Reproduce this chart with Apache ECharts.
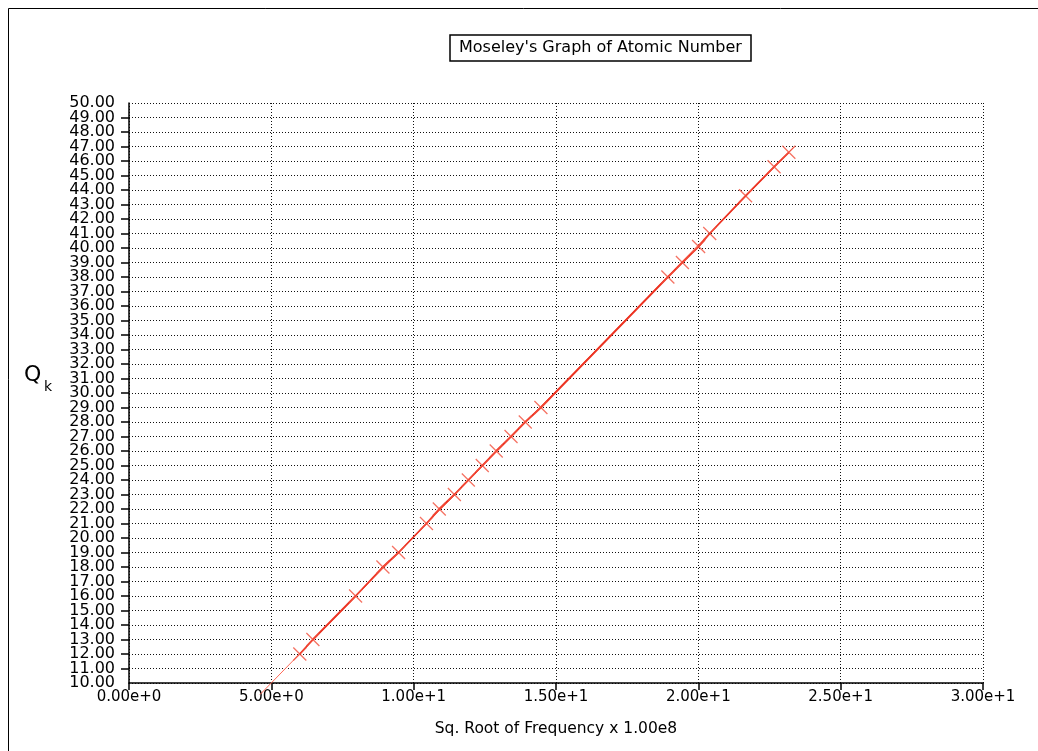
<!DOCTYPE html>
<html>
<head>
<meta charset="utf-8">
<script src="https://cdn.jsdelivr.net/npm/echarts@6/dist/echarts.min.js"></script>
<style>html,body{margin:0;padding:0;background:#fff}#c{width:1038px;height:751px}</style>
</head>
<body>
<div id="c"></div>
<script>
// Data
const titleText = "Moseley's Graph of Atomic Number";
const xAxisName = "Sq. Root of Frequency x 1.00e8";
const sqrtFreq = [6.00, 6.46, 7.96, 8.92, 9.47, 10.45, 10.90, 11.43, 11.92, 12.41, 12.90, 13.42, 13.92, 14.47, 18.93, 19.44, 20.01, 20.40, 21.66, 22.66, 23.18];
const atomicNumber = [12, 13, 16, 18, 19, 21, 22, 23, 24, 25, 26, 27, 28, 29, 38, 39, 40.1, 41, 43.6, 45.6, 46.6];
const fitX = [4.6, 23.35];
const fitY = [9.2, 46.95];
const yMin = 10, yMax = 50;

const pts = sqrtFreq.map((x, i) => [x, atomicNumber[i]]);
const fit = fitX.map((x, i) => [x, fitY[i]]);
const FONT = 'DejaVu Sans';
const GRID = {left: 129, right: 55, top: 103, bottom: 68};
const yLabel = {color: '#000', margin: 14, fontFamily: FONT, fontSize: 16,
  formatter: v => v.toFixed(2)};

const chart = echarts.init(document.getElementById('c'), null, {renderer: 'canvas'});
chart.setOption({
  animation: false,
  backgroundColor: '#fff',
  title: {
    text: titleText,
    left: 450, top: 35,
    padding: [5, 9, 5, 9],
    borderWidth: 1.5, borderColor: '#000',
    textStyle: {fontFamily: FONT, fontSize: 16, fontWeight: 'normal', color: '#000'}
  },
  grid: Object.assign({containLabel: false}, GRID),
  xAxis: {
    type: 'value', min: 0, max: 30, interval: 5,
    name: xAxisName, nameLocation: 'middle', nameGap: 38,
    nameTextStyle: {fontFamily: FONT, fontSize: 15.5, color: '#000'},
    axisLine: {show: true, onZero: false, lineStyle: {color: '#000', width: 1.5}},
    axisTick: {show: true, length: 7, lineStyle: {color: '#000', width: 1.5}},
    axisLabel: {fontFamily: FONT, fontSize: 15, color: '#000', margin: 7,
      showMinLabel: true, showMaxLabel: true,
      formatter: v => v.toExponential(2)},
    splitLine: {show: true, lineStyle: {color: '#111', width: 1, type: [1, 2]}}
  },
  yAxis: [{
    type: 'value', min: yMin, max: yMax, interval: 1, position: 'left',
    axisLine: {show: true, onZero: false, lineStyle: {color: '#000', width: 1.5}},
    axisTick: {show: true, length: 8, lineStyle: {color: '#000', width: 1.5}},
    axisLabel: Object.assign({showMinLabel: false, showMaxLabel: false}, yLabel),
    splitLine: {show: true, lineStyle: {color: '#111', width: 1, type: [1, 2]}}
  }, {
    // carries the end labels (10.00 and 50.00) on the same left edge
    type: 'value', min: yMin, max: yMax, interval: yMax - yMin, position: 'right',
    offset: -(1038 - GRID.left - GRID.right),
    axisLine: {show: false},
    axisTick: {show: false},
    axisLabel: Object.assign({inside: true, showMinLabel: true, showMaxLabel: true}, yLabel),
    splitLine: {show: false}
  }],
  graphic: [
    {type: 'line', shape: {x1: 8.5, y1: 8.5, x2: 1038, y2: 8.5}, style: {stroke: '#000', lineWidth: 1}},
    {type: 'line', shape: {x1: 8.5, y1: 8.5, x2: 8.5, y2: 751}, style: {stroke: '#000', lineWidth: 1}},
    {type: 'text', left: 24, top: 364, style: {text: 'Q', fontFamily: FONT, fontSize: 22, fill: '#000'}},
    {type: 'text', left: 44, top: 380, style: {text: 'k', fontFamily: FONT, fontSize: 14, fill: '#000'}}
  ],
  series: [
    {
      type: 'line', data: fit, clip: false, symbol: 'none',
      lineStyle: {color: '#ff6a58', width: 1}, z: 2
    },
    {
      type: 'line', data: pts, symbol: 'none',
      lineStyle: {color: '#ec3322', width: 1.8}, z: 3
    },
    {
      type: 'scatter', data: pts,
      symbol: 'path://M0,0L10,10M10,0L0,10', symbolSize: 13,
      itemStyle: {color: 'none', borderColor: '#f2503d', borderWidth: 1.3}, z: 4
    }
  ]
});
</script>
</body>
</html>
